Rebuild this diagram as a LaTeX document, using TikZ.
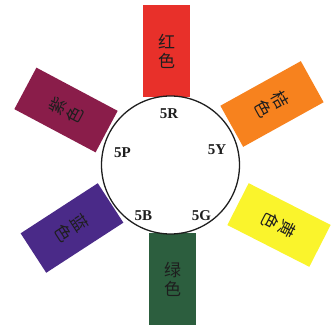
\documentclass[tikz,border=0pt]{standalone}
\usepackage{fontspec}
\setmainfont{Liberation Serif}
\newfontfamily\cjk{Noto Sans CJK SC}
\usepackage{xcolor}
\usetikzlibrary{positioning}
\definecolor{RedA}{HTML}{E8302A}
\definecolor{OrangeA}{HTML}{F7821E}
\definecolor{YellowA}{HTML}{FAF42C}
\definecolor{GreenA}{HTML}{2C5E3E}
\definecolor{BlueA}{HTML}{4A2A88}
\definecolor{PurpleA}{HTML}{8A1D4A}
\definecolor{InkA}{HTML}{1E1E1E}
\tikzset{
  card/.style={minimum width=47pt, minimum height=92pt, inner sep=0pt,
               align=center, text=InkA, font=\cjk\fontsize{17}{19}\selectfont},
  wheel/.style={circle, draw=InkA, fill=white, line width=1.3pt,
                minimum size=138pt, inner sep=0pt},
  hue/.style={font=\bfseries\fontsize{15}{18}\selectfont, text=InkA, inner sep=0pt},
}

\begin{document}
\begin{tikzpicture}[x=1pt, y=1pt]
  \useasboundingbox (-170.5,-163) rectangle (163.5,165);
  \node[card, fill=RedA]    (red)    at (-4,114)      {红\\色};
  \node[card, fill=OrangeA, rotate=-61]  (orange) at (101.5,61)   {桔\\色};
  \node[card, fill=YellowA, rotate=-117] (yellow) at (108.5,-60)  {黄\\色};
  \node[card, fill=GreenA]  (green)  at (2,-114)      {绿\\色};
  \node[card, fill=BlueA, rotate=-57]    (blue)   at (-98.5,-63)  {蓝\\色};
  \node[card, fill=PurpleA, rotate=62]   (purple) at (-104.5,55)  {紫\\色};

  \node[wheel] (wheel) at (0,0) {};
  \node[hue] (r5) at (-1.5,51) {5R};
  \node[hue] (y5) at (46.5,15) {5Y};
  \node[hue] (p5) at (-48,12)  {5P};
  \node[hue] (b5) at (-27,-51) {5B};
  \node[hue] (g5) at (31,-51)  {5G};
\end{tikzpicture}
\end{document}
